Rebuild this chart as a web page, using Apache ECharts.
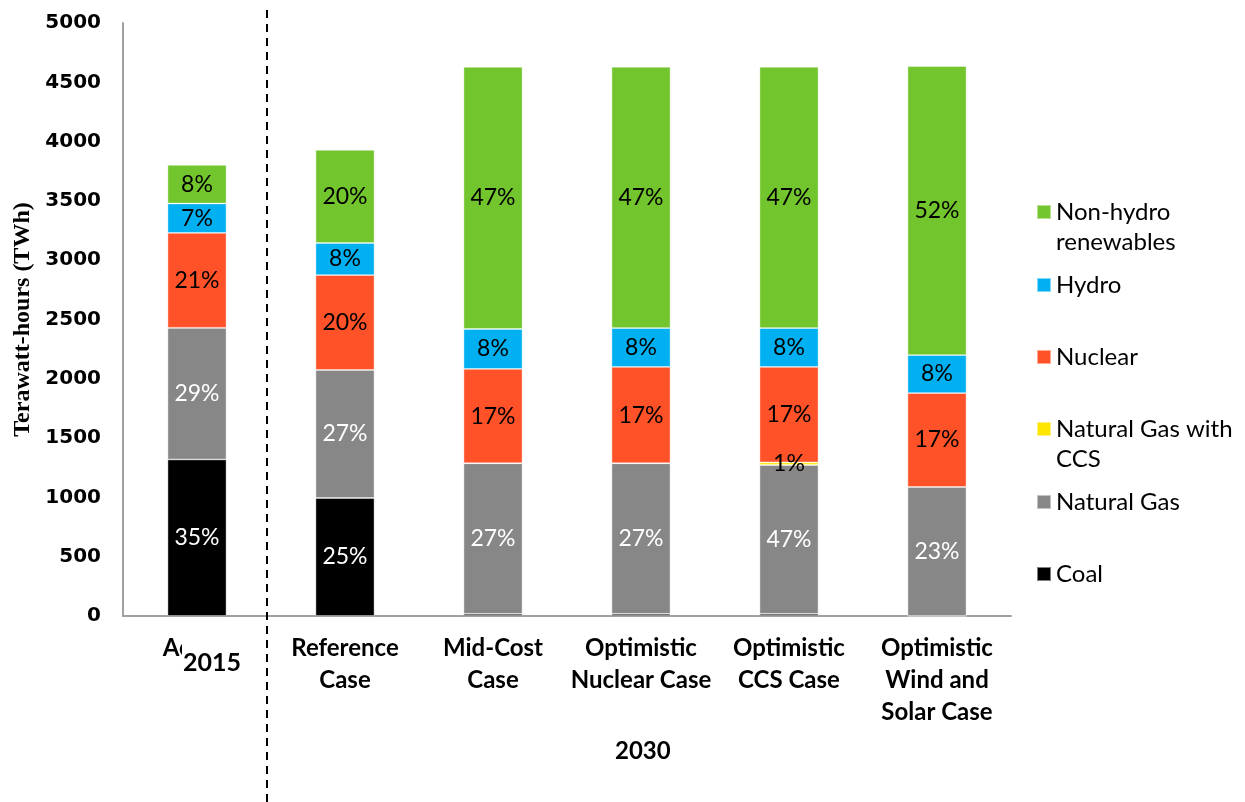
<!DOCTYPE html>
<html>
<head>
<meta charset="utf-8" />
<script src="https://cdn.jsdelivr.net/npm/echarts@6/dist/echarts.min.js"></script>
<title>Generation mix</title>
<style>
  html, body { margin: 0; padding: 0; background: #fff; }
  #main { width: 1245px; height: 802px; }
</style>
</head>
<body>
<div id="main"></div>
<script>
// categories (first one is partly hidden by the "2015" box, like the original)
var categories = ['Actual', 'Reference\nCase', 'Mid-Cost\nCase', 'Optimistic\nNuclear Case', 'Optimistic\nCCS Case', 'Optimistic\nWind and\nSolar Case'];

// TWh values
var coal     = [1320, 995, 18, 18, 18, 0];
var gas      = [1110, 1080, 1270, 1270, 1255, 1088];
var gasCcs   = [0, 0, 0, 0, 22, 0];
var nuclear  = [800, 800, 795, 812, 805, 792];
var hydro    = [248, 270, 337, 328, 328, 320];
var renew    = [325, 785, 2210, 2203, 2203, 2437];

// percentage labels printed on the bars
var coalPct    = ['35%', '25%', '', '', '', ''];
var gasPct     = ['29%', '27%', '27%', '27%', '47%', '23%'];
var gasCcsPct  = ['', '', '', '', '1%', ''];
var nuclearPct = ['21%', '20%', '17%', '17%', '17%', '17%'];
var hydroPct   = ['7%', '8%', '8%', '8%', '8%', '8%'];
var renewPct   = ['8%', '20%', '47%', '47%', '47%', '52%'];

var yTicks = { min: 0, max: 5000, interval: 500 };

var myChart = echarts.init(document.getElementById('main'));

function barSeries(name, data, pct, color, labelColor) {
    return {
        name: name,
        type: 'bar',
        stack: 'total',
        barWidth: 59,
        data: data,
        itemStyle: { color: color, borderColor: 'rgba(255,255,255,0.5)', borderWidth: 0.8 },
        label: {
            show: true,
            position: 'inside',
            color: labelColor,
            fontFamily: 'Lato',
            fontSize: 23,
            formatter: function (p) { return pct[p.dataIndex]; }
        }
    };
}

var legendText = {
    'Non-hydro renewables': '\nNon-hydro\nrenewables',
    'Natural Gas with CCS': '\nNatural Gas with\nCCS'
};
function legendItem(name, top) {
    return {
        data: [name],
        left: 1036,
        top: top,
        orient: 'vertical',
        padding: 0,
        icon: 'rect',
        itemWidth: 14,
        itemHeight: 14,
        selectedMode: false,
        textStyle: { fontFamily: 'Lato', fontSize: 24, lineHeight: 30, color: '#000' },
        formatter: function (n) { return legendText[n] || n; }
    };
}

var option = {
    animation: false,
    backgroundColor: '#fff',
    grid: { left: 123, right: 234, top: 23, bottom: 186 },
    legend: [
        legendItem('Non-hydro renewables', 167),
        legendItem('Hydro', 270),
        legendItem('Nuclear', 342),
        legendItem('Natural Gas with CCS', 384),
        legendItem('Natural Gas', 487),
        legendItem('Coal', 559)
    ],
    xAxis: {
        type: 'category',
        data: categories,
        axisLine: { lineStyle: { color: '#a0a0a0', width: 2 } },
        axisTick: { show: false },
        axisLabel: {
            interval: 0,
            margin: 16,
            color: '#000',
            fontFamily: 'Lato',
            fontWeight: 'bold',
            fontSize: 24,
            lineHeight: 32
        }
    },
    yAxis: {
        type: 'value',
        min: yTicks.min,
        max: yTicks.max,
        interval: yTicks.interval,
        name: 'Terawatt-hours (TWh)',
        nameLocation: 'middle',
        nameGap: 86,
        nameTextStyle: { fontFamily: 'Liberation Serif', fontWeight: 'bold', fontSize: 24, color: '#000' },
        axisLine: { show: true, lineStyle: { color: '#a0a0a0', width: 2 } },
        axisTick: { show: false },
        splitLine: { show: false },
        axisLabel: {
            margin: 22,
            color: '#000',
            fontFamily: 'DejaVu Sans',
            fontWeight: 'bold',
            fontSize: 20,
            formatter: function (v) { return String(v); }
        }
    },
    graphic: [
        // dashed separator between actual and 2030 cases
        { type: 'line', shape: { x1: 267, y1: 10, x2: 267, y2: 802 },
          style: { stroke: '#000', lineWidth: 2, lineDash: [8, 6] }, z: 10 },
        // "2015" box laid over the first category label
        { type: 'text', left: 182, top: 633, z: 10,
          style: { text: '2015', fill: '#000', font: 'bold 25px Lato',
                   backgroundColor: '#fff', padding: [17, 4, 2, 1] } },
        { type: 'text', left: 615, top: 739, z: 10,
          style: { text: '2030', fill: '#000', font: 'bold 24px Lato' } }
    ],
    series: [
        barSeries('Coal', coal, coalPct, '#000000', '#fff'),
        barSeries('Natural Gas', gas, gasPct, '#878787', '#fff'),
        barSeries('Natural Gas with CCS', gasCcs, gasCcsPct, '#FFE600', '#000'),
        barSeries('Nuclear', nuclear, nuclearPct, '#FF5228', '#000'),
        barSeries('Hydro', hydro, hydroPct, '#00B0F0', '#000'),
        barSeries('Non-hydro renewables', renew, renewPct, '#72C52D', '#000')
    ]
};

myChart.setOption(option);
</script>
</body>
</html>
